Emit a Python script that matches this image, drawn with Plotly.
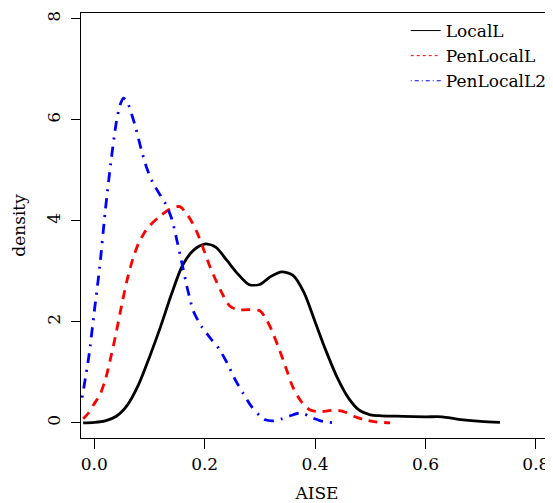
import plotly.graph_objects as go

# LocalL (black, solid)
local_x = [-0.02, 0.0, 0.02, 0.04, 0.06, 0.08, 0.10, 0.12, 0.14, 0.16, 0.18, 0.20, 0.22, 0.24,
           0.26, 0.28, 0.30, 0.32, 0.34, 0.36, 0.38, 0.40, 0.42, 0.44, 0.46, 0.48, 0.50, 0.52,
           0.56, 0.60, 0.63, 0.66, 0.70, 0.735]
local_y = [0.0, 0.01, 0.04, 0.13, 0.35, 0.75, 1.3, 1.9, 2.55, 3.12, 3.42, 3.54, 3.48, 3.22,
           2.95, 2.74, 2.74, 2.9, 2.99, 2.92, 2.58, 2.0, 1.42, 0.9, 0.5, 0.25, 0.16, 0.14,
           0.13, 0.12, 0.12, 0.07, 0.03, 0.01]

# PenLocalL (red, dashed)
pen_x = [-0.02, -0.01, 0.0, 0.01, 0.02, 0.03, 0.04, 0.05, 0.06, 0.07, 0.08, 0.09, 0.10, 0.12,
         0.14, 0.155, 0.17, 0.185, 0.20, 0.21, 0.23, 0.245, 0.26, 0.28, 0.30, 0.31, 0.32,
         0.335, 0.35, 0.36, 0.375, 0.39, 0.41, 0.425, 0.44, 0.455, 0.47, 0.49, 0.51, 0.536]
pen_y = [0.08, 0.2, 0.38, 0.55, 0.85, 1.3, 1.8, 2.35, 2.85, 3.25, 3.55, 3.75, 3.9, 4.1,
         4.25, 4.28, 4.1, 3.8, 3.38, 3.08, 2.6, 2.32, 2.24, 2.24, 2.22, 2.08, 1.87,
         1.46, 1.0, 0.7, 0.42, 0.26, 0.22, 0.24, 0.25, 0.21, 0.13, 0.06, 0.02, 0.0]

# PenLocalL2 (blue, dot-dash)
pen2_x = [-0.022, -0.01, 0.0, 0.01, 0.02, 0.03, 0.04, 0.047, 0.053, 0.06, 0.068, 0.075, 0.085,
          0.095, 0.105, 0.12, 0.13, 0.14, 0.15, 0.16, 0.17, 0.18, 0.195, 0.21, 0.225, 0.24,
          0.255, 0.27, 0.285, 0.30, 0.31, 0.325, 0.34, 0.355, 0.37, 0.38, 0.395, 0.41, 0.425, 0.44]
pen2_y = [0.5, 1.3, 2.2, 3.1, 4.2, 5.15, 5.95, 6.3, 6.43, 6.35, 6.1, 5.85, 5.42,
          5.05, 4.78, 4.5, 4.32, 4.05, 3.6, 3.1, 2.6, 2.2, 1.9, 1.68, 1.48, 1.2,
          0.86, 0.58, 0.32, 0.14, 0.06, 0.04, 0.08, 0.14, 0.19, 0.18, 0.1, 0.04, 0.01, 0.0]

x_ticks = [0.0, 0.2, 0.4, 0.6, 0.8]
x_tick_labels = ["0.0", "0.2", "0.4", "0.6", "0.8"]
y_ticks = [0, 2, 4, 6, 8]
y_tick_labels = ["0", "2", "4", "6", "8"]

series = [
    ("LocalL", local_x, local_y, "black", "solid", "solid"),
    ("PenLocalL", pen_x, pen_y, "red", "9px,7px", "3px,3px"),
    ("PenLocalL2", pen2_x, pen2_y, "blue", "2px,7px,10px,7px", "1px,3px,4px,3px"),
]

FONT = "DejaVu Serif"
fig = go.Figure()
for name, xs, ys, col, dash, _ in series:
    fig.add_trace(go.Scatter(x=xs, y=ys, mode="lines", name=name, showlegend=False,
                             line=dict(color=col, width=2.8, dash=dash, shape="spline",
                                       smoothing=0.8)))
for name, xs, ys, col, _, ldash in series:
    fig.add_trace(go.Scatter(x=[None], y=[None], mode="lines", name=name, showlegend=True,
                             line=dict(color=col, width=1, dash=ldash)))

# the page body adds an 8px margin, so the figure is 545x495
fig.update_layout(
    width=545, height=495,
    margin=dict(l=73, r=0, t=5, b=65, autoexpand=False),
    plot_bgcolor="white", paper_bgcolor="white",
    font=dict(family=FONT, size=17, color="black"),
    showlegend=True,
    legend=dict(x=0.688, y=1.0, xanchor="left", yanchor="top", bgcolor="rgba(0,0,0,0)",
                font=dict(family=FONT, size=17), tracegroupgap=0),
    xaxis=dict(range=[-0.024, 0.831], tickvals=x_ticks, ticktext=x_tick_labels,
               automargin=False,
               showgrid=False, zeroline=False, showline=True, linecolor="black", linewidth=1.3,
               mirror=True, ticks="outside", ticklen=10, tickcolor="black", tickwidth=1,
               title=dict(text="AISE", font=dict(family=FONT, size=17), standoff=14)),
    yaxis=dict(range=[-0.30, 8.115], tickvals=y_ticks, ticktext=y_tick_labels, tickangle=-90,
               automargin=False, ticklabelstandoff=4,
               showgrid=False, zeroline=False, showline=True, linecolor="black", linewidth=1.3,
               mirror=False, ticks="outside", ticklen=9, tickcolor="black", tickwidth=1,
               title=dict(text="density", font=dict(family=FONT, size=17), standoff=14)),
)
fig.write_html("out.html")
